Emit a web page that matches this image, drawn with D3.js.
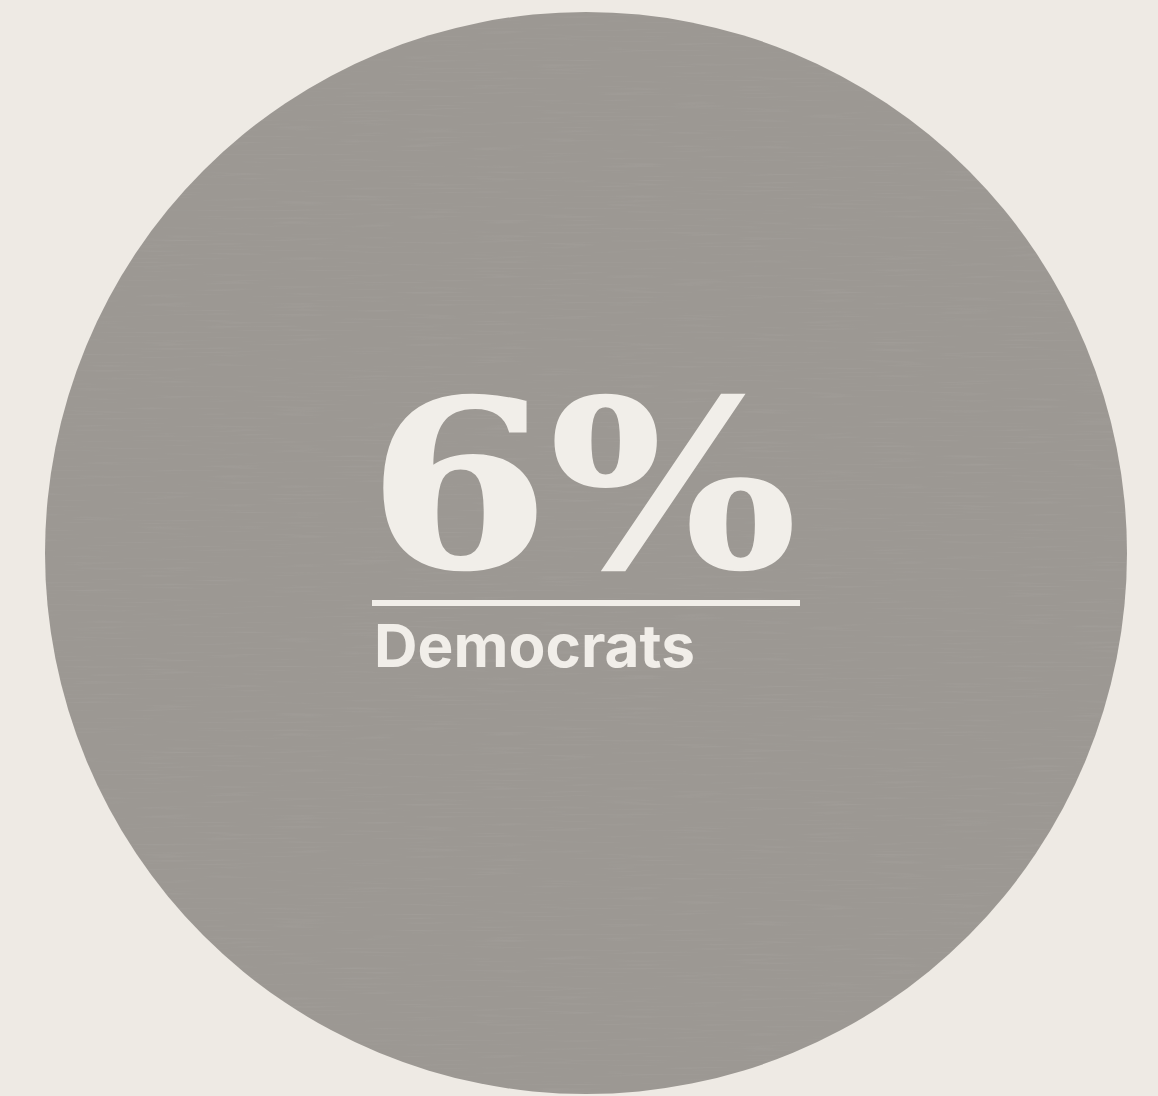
<!DOCTYPE html>
<html>
<head>
<meta charset="utf-8">
<script src="https://cdn.jsdelivr.net/npm/d3@7"></script>
<style>
html,body{margin:0;padding:0;background:#eeeae4;overflow:hidden;}
svg{display:block;}
</style>
</head>
<body>
<script>
// Data
const categories = ["Democrats"];
const values = [6];
const valueLabels = ["6%"];

const W = 1158, H = 1096;
const svg = d3.select("body").append("svg").attr("width", W).attr("height", H);

svg.append("rect").attr("width", W).attr("height", H).attr("fill", "#eeeae4");

const defs = svg.append("defs");
const f = defs.append("filter").attr("id", "grain").attr("x", 0).attr("y", 0).attr("width", "100%").attr("height", "100%");
f.append("feTurbulence").attr("type", "fractalNoise").attr("baseFrequency", "0.015 0.5").attr("numOctaves", 2).attr("seed", 7).attr("result", "n");
f.append("feColorMatrix").attr("in", "n").attr("type", "matrix")
  .attr("values", "0 0 0 0 0.45  0 0 0 0 0.44  0 0 0 0 0.42  0 0 0 -1.8 0.8").attr("result", "c");
f.append("feComposite").attr("in", "c").attr("in2", "SourceGraphic").attr("operator", "in");

const cx = 586, cy = 553;
const rScale = d3.scaleLinear().domain([0, 6]).range([0, 541]);

const g = svg.append("g");
g.selectAll("circle.bubble").data(values).join("circle")
  .attr("class", "bubble")
  .attr("cx", cx).attr("cy", cy).attr("r", d => rScale(d))
  .attr("fill", "#9c9893");
g.selectAll("circle.tex").data(values).join("circle")
  .attr("class", "tex")
  .attr("cx", cx).attr("cy", cy).attr("r", d => rScale(d))
  .attr("fill", "#9c9893").attr("filter", "url(#grain)").attr("opacity", 0.3);

const txtColor = "#f1eee9";

g.selectAll("text.val").data(valueLabels).join("text")
  .attr("class", "val")
  .attr("x", 368).attr("y", 567)
  .attr("font-family", "'DejaVu Serif', 'Liberation Serif', serif")
  .attr("font-weight", 700)
  .attr("font-size", 232)
  .attr("textLength", 429).attr("lengthAdjust", "spacingAndGlyphs")
  .attr("fill", txtColor)
  .attr("stroke", txtColor).attr("stroke-width", 2)
  .text(d => d);

g.append("rect")
  .attr("x", 372).attr("y", 600).attr("width", 428).attr("height", 6)
  .attr("fill", txtColor);

g.selectAll("text.cat").data(categories).join("text")
  .attr("class", "cat")
  .attr("x", 374).attr("y", 667)
  .attr("font-family", "Inter, 'Noto Sans', sans-serif")
  .attr("font-weight", 700)
  .attr("font-size", 59)
  .attr("textLength", 321).attr("lengthAdjust", "spacingAndGlyphs")
  .attr("fill", txtColor)
  .text(d => d);
</script>
</body>
</html>
